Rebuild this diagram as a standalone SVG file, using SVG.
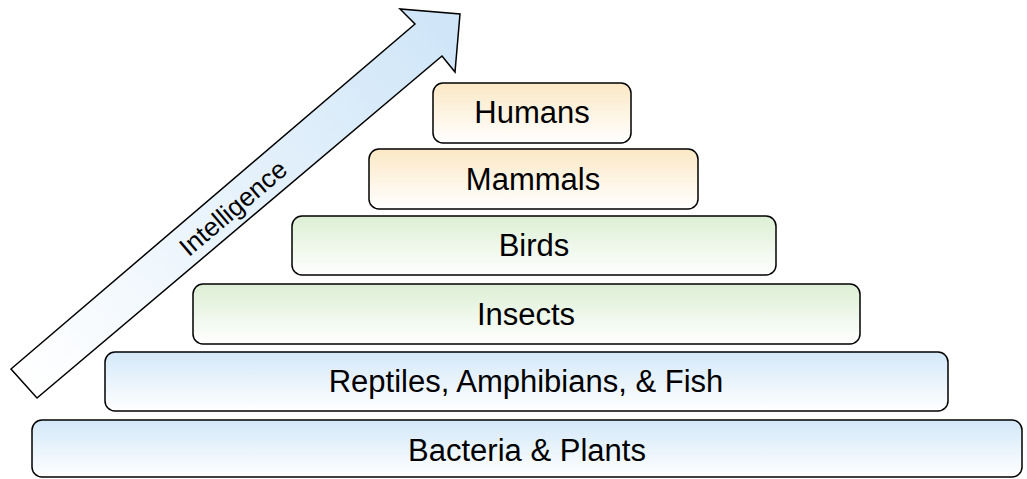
<svg xmlns="http://www.w3.org/2000/svg" width="1027" height="479" viewBox="0 0 1027 479">
<style>
.box{stroke:#000;stroke-width:1.5}
.lbl{font-family:"Liberation Sans",Arial,sans-serif;font-size:31px;fill:#000;text-anchor:middle}
</style>
<defs>
<linearGradient id="gOrange" x1="0" y1="0" x2="0" y2="1"><stop offset="0" stop-color="#fbe8c5"/><stop offset="1" stop-color="#ffffff"/></linearGradient>
<linearGradient id="gGreen" x1="0" y1="0" x2="0" y2="1"><stop offset="0" stop-color="#dcefd4"/><stop offset="1" stop-color="#ffffff"/></linearGradient>
<linearGradient id="gBlue" x1="0" y1="0" x2="0" y2="1"><stop offset="0" stop-color="#d3e8f8"/><stop offset="1" stop-color="#ffffff"/></linearGradient>
<linearGradient id="gArrow" gradientUnits="userSpaceOnUse" x1="24" y1="384" x2="440" y2="30"><stop offset="0" stop-color="#ffffff"/><stop offset="1" stop-color="#d0e6f8"/></linearGradient>
</defs>
<rect width="1027" height="479" fill="#ffffff"/>
<g id="connectors">
<g id="arrow">
<polygon points="11,369 415,24 400,9 460,14 455,72 442,56 37,398" fill="url(#gArrow)" stroke="#000" stroke-width="1.5" stroke-linejoin="miter"/>
<text x="233" y="217" transform="rotate(-40.4 233 208)" style="font-family:'Liberation Sans',Arial,sans-serif;font-size:26px;text-anchor:middle">Intelligence</text>
</g>
</g>
<g id="humans"><rect class="box" x="433" y="83" width="198" height="60" rx="10" fill="url(#gOrange)"/><text class="lbl" x="532" y="123">Humans</text></g>
<g id="mammals"><rect class="box" x="369" y="149" width="329" height="60" rx="10" fill="url(#gOrange)"/><text class="lbl" x="533" y="190">Mammals</text></g>
<g id="birds"><rect class="box" x="292" y="216" width="484" height="59" rx="10" fill="url(#gGreen)"/><text class="lbl" x="534" y="256">Birds</text></g>
<g id="insects"><rect class="box" x="193" y="284" width="667" height="60" rx="10" fill="url(#gGreen)"/><text class="lbl" x="526" y="325">Insects</text></g>
<g id="reptiles"><rect class="box" x="105" y="352" width="843" height="59" rx="10" fill="url(#gBlue)"/><text class="lbl" x="526" y="392">Reptiles, Amphibians, &amp; Fish</text></g>
<g id="bacteria"><rect class="box" x="32" y="420" width="990" height="57" rx="10" fill="url(#gBlue)"/><text class="lbl" x="527" y="461">Bacteria &amp; Plants</text></g>
</svg>
